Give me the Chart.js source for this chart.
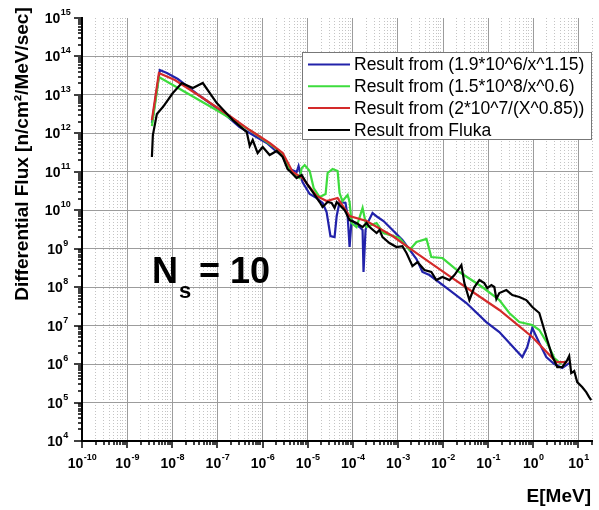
<!DOCTYPE html>
<html>
<head>
<meta charset="utf-8">
<title>Differential flux, Ns = 10</title>
<script src="https://cdn.jsdelivr.net/npm/chart.js@4.4.1/dist/chart.umd.min.js"></script>
<style>
  html, body { margin: 0; padding: 0; background: #fff; }
  canvas { display: block; }
</style>
</head>
<body>
<canvas id="fluxChart" width="599" height="510"></canvas>
<script>
// energy in MeV, flux in n/cm2/MeV/sec
const blueE = [3.54e-9, 5.3e-9, 7.6e-9, 1.33e-8, 4.1e-8, 1.13e-7, 3.1e-7, 6.7e-7, 1.24e-6, 1.86e-6,
    2.8e-6, 3.6e-6, 5.7e-6, 6.3e-6, 7.7e-6, 1.11e-5, 1.58e-5, 2.15e-5, 2.63e-5, 3.2e-5,
    3.95e-5, 4.4e-5, 5.1e-5, 6.9e-5, 7.7e-5, 8.5e-5, 9.4e-5, 1.41e-4, 1.65e-4, 1.73e-4,
    1.92e-4, 2.12e-4, 2.74e-4, 3.54e-4, 4.8e-4, 7.6e-4, 1.26e-3, 2.58e-3, 3.5e-3, 5.0e-3,
    1.39e-2, 3.3e-2, 9.1e-2, 0.177, 0.571, 0.736, 0.951, 1.36, 1.94, 2.92, 4.39, 6.25];
const blueFlux = [1.86e12, 4.45e13, 3.72e13, 2.59e13, 9.36e12, 4.05e12, 1.46e12, 8.53e11, 5.61e11, 3.69e11,
    2.58e11, 1.26e11, 9.9e10, 1.42e11, 5.43e10, 2.65e10, 2.08e10, 1.55e10, 9.0e9, 2.14e9,
    2.01e9, 7.08e9, 1.64e10, 1.55e10, 7.08e9, 1.11e9, 5.57e9, 3.66e9, 3.06e9, 2.48e8,
    3.06e9, 4.66e9, 8.47e9, 6.67e9, 5.25e9, 3.06e9, 1.68e9, 5.40e8, 2.48e8, 2.07e8,
    8.43e7, 3.87e7, 1.24e7, 6.82e6, 1.52e6, 2.77e6, 8.67e6, 3.52e6, 1.52e6, 1.0e6, 7.89e5, 1.06e6];

const greenE = [3.54e-9, 5.06e-9, 2.1e-8, 1.13e-7, 6.1e-7, 1.68e-6, 2.8e-6, 4.0e-6, 6.65e-6, 7.4e-6,
    8.6e-6, 1.11e-5, 1.36e-5, 1.84e-5, 2.5e-5, 2.77e-5, 3.57e-5, 4.61e-5, 5.1e-5, 5.9e-5,
    7.7e-5, 8.5e-5, 9.4e-5, 1.21e-4, 1.65e-4, 2.02e-4, 3.37e-4, 4.8e-4, 1.08e-3, 1.81e-3,
    2.58e-3, 4.3e-3, 5.5e-3, 9.7e-3, 2.3e-2, 7.4e-2, 0.177, 0.294, 0.49, 0.95,
    1.36, 2.04, 2.92, 4.16];
const greenFlux = [1.55e12, 2.92e13, 1.12e13, 3.59e12, 1.08e12, 4.69e11, 2.90e11, 1.11e11, 6.9e10, 1.26e11,
    1.50e11, 1.05e11, 3.79e10, 2.21e10, 2.65e10, 9.31e10, 1.18e11, 1.05e11, 2.81e10, 1.74e10,
    2.49e10, 1.64e10, 4.66e9, 3.66e9, 1.15e10, 3.66e9, 4.66e9, 2.56e9, 1.90e9, 9.25e8,
    1.49e9, 1.79e9, 6.08e8, 5.73e8, 2.48e8, 1.01e8, 4.63e7, 2.13e7, 1.24e7, 1.04e7,
    7.69e6, 3.52e6, 1.44e6, 1.0e6];

const redE = [3.54e-9, 5.06e-9, 1.14e-8, 4.08e-8, 1.88e-7, 5.21e-7, 1.44e-6, 2.8e-6, 4.66e-6, 7.74e-6,
    1.58e-5, 2.63e-5, 4.61e-5, 8.49e-5, 2.02e-4, 7.6e-4, 2.58e-3, 1.39e-2, 0.177, 0.95, 3.23, 5.65];
const redFlux = [2.22e12, 3.72e13, 2.44e13, 9.36e12, 2.83e12, 1.22e12, 5.61e11, 3.08e11, 9.9e10, 6.9e10,
    2.35e10, 1.74e10, 2.08e10, 7.08e9, 5.25e9, 2.14e9, 7.73e8, 1.95e8, 2.55e7, 5.06e6, 1.13e6, 1.13e6];

const flukaE = [3.54e-9, 3.72e-9, 4.56e-9, 6.2e-9, 1.03e-8, 1.63e-8, 2.86e-8, 4.75e-8, 9.7e-8, 2.19e-7,
    4.47e-7, 5.21e-7, 6.07e-7, 7.8e-7, 1.01e-6, 1.44e-6, 2.06e-6, 2.8e-6, 3.6e-6, 4.43e-6,
    5.7e-6, 7.4e-6, 8.6e-6, 1.0e-5, 1.29e-5, 1.84e-5, 2.15e-5, 2.77e-5, 3.4e-5, 3.95e-5,
    4.4e-5, 5.1e-5, 6.6e-5, 8.5e-5, 1.21e-4, 1.65e-4, 2.02e-4, 2.36e-4, 3.37e-4, 3.92e-4,
    4.56e-4, 6.5e-4, 9.3e-4, 1.26e-3, 1.55e-3, 2.1e-3, 2.72e-3, 3.87e-3, 5.5e-3, 7.1e-3,
    9.7e-3, 1.39e-2, 1.79e-2, 2.55e-2, 2.97e-2, 3.84e-2, 4.95e-2, 6.4e-2, 8.2e-2, 9.6e-2,
    0.118, 0.137, 0.152, 0.177, 0.253, 0.343, 0.49, 0.70, 0.95, 1.36,
    1.58, 2.04, 2.63, 3.40, 4.39, 5.65, 6.25, 6.93, 8.07, 9.40,
    12.1, 14.9, 17.3, 19.2];
const flukaFlux = [2.43e11, 9.06e11, 3.18e12, 4.84e12, 1.12e13, 2.04e13, 1.51e13, 2.04e13, 6.15e12, 2.22e12,
    1.08e12, 4.69e11, 6.71e11, 3.08e11, 4.42e11, 2.74e11, 3.48e11, 2.43e11, 1.18e11, 9.31e10,
    6.9e10, 8.26e10, 6.12e10, 4.54e10, 2.99e10, 1.64e10, 1.22e10, 1.64e10, 1.55e10, 1.15e10,
    1.64e10, 1.37e10, 1.01e10, 5.57e9, 4.66e9, 3.66e9, 4.66e9, 3.66e9, 2.56e9, 3.06e9,
    2.01e9, 1.41e9, 1.11e9, 1.17e9, 7.73e8, 3.55e8, 4.51e8, 2.79e8, 2.48e8, 1.53e8,
    1.84e8, 1.53e8, 2.07e8, 3.77e8, 1.28e8, 4.63e7, 1.01e8, 1.53e8, 1.28e8, 9.5e7,
    1.14e8, 1.01e8, 4.92e7, 7.05e7, 8.43e7, 6.25e7, 5.55e7, 4.63e7, 3.05e7, 2.13e7,
    1.17e7, 4.22e6, 1.62e6, 8.38e5, 8.38e5, 1.27e6, 1.62e6, 5.85e5, 6.59e5, 3.41e5,
    2.53e5, 1.87e5, 1.39e5, 1.16e5];

const seriesLabels = [
    'Result from (1.9*10^6/x^1.15)',
    'Result from (1.5*10^8/x^0.6)',
    'Result from (2*10^7/(X^0.85))',
    'Result from Fluka',
];
const seriesColors = ['#2222aa', '#3ddc3d', '#d42a2a', '#000000'];

// tick label exponents
const xDecades = [-10, -9, -8, -7, -6, -5, -4, -3, -2, -1, 0, 1];
const yDecades = [4, 5, 6, 7, 8, 9, 10, 11, 12, 13, 14, 15];

const FONT = '"Liberation Sans", Arial, sans-serif';

function toPoints(xs, ys) {
    return xs.map((x, i) => ({x: x, y: ys[i]}));
}

function isDecade(v) {
    const l = Math.log10(v);
    return Math.abs(l - Math.round(l)) < 1e-6;
}

// 1..9 x 10^n ticks, no 1.5 steps
function logTicks(scale) {
    const ticks = [];
    const lo = Math.floor(Math.log10(scale.min));
    const hi = Math.ceil(Math.log10(scale.max));
    for (let d = lo; d <= hi; d++) {
        for (let m = 1; m <= 9; m++) {
            const v = m * Math.pow(10, d);
            if (v >= scale.min * 0.999 && v <= scale.max * 1.001) {
                ticks.push({value: v});
            }
        }
    }
    scale.ticks = ticks;
}

function tickIsDecade(c) {
    return !!(c.tick && isDecade(c.tick.value));
}

function drawPower(ctx, exp, cx, baseY) {
    const base = 'bold 14px ' + FONT;
    const sup = 'bold 9px ' + FONT;
    ctx.font = base;
    const w1 = ctx.measureText('10').width;
    ctx.font = sup;
    const w2 = ctx.measureText(exp).width;
    const start = cx - (w1 + w2) / 2;
    ctx.font = base;
    ctx.fillText('10', start, baseY);
    ctx.font = sup;
    ctx.fillText(exp, start + w1 + 0.5, baseY - 8);
}

const decorPlugin = {
    id: 'decor',
    afterDraw(chart) {
        const {ctx, chartArea} = chart;
        const xs = chart.scales.x;
        const ys = chart.scales.y;
        ctx.save();

        // outward tick marks
        ctx.strokeStyle = '#000';
        ctx.lineWidth = 1.5;
        xs.ticks.forEach(t => {
            const px = Math.round(xs.getPixelForValue(t.value));
            const len = isDecade(t.value) ? 7 : 4;
            ctx.beginPath();
            ctx.moveTo(px, chartArea.bottom);
            ctx.lineTo(px, chartArea.bottom + len);
            ctx.stroke();
        });
        ys.ticks.forEach(t => {
            const py = Math.round(ys.getPixelForValue(t.value));
            const len = isDecade(t.value) ? 8 : 4;
            ctx.beginPath();
            ctx.moveTo(chartArea.left, py);
            ctx.lineTo(chartArea.left - len, py);
            ctx.stroke();
        });

        // tick labels
        ctx.fillStyle = '#000';
        ctx.textBaseline = 'alphabetic';
        ctx.textAlign = 'left';
        xDecades.forEach(d => {
            drawPower(ctx, String(d), xs.getPixelForValue(Math.pow(10, d)), chartArea.bottom + 27);
        });
        yDecades.forEach(d => {
            drawPower(ctx, String(d), 57.5, ys.getPixelForValue(Math.pow(10, d)) + 5);
        });

        // axis titles
        ctx.font = 'bold 19px ' + FONT;
        ctx.textAlign = 'right';
        ctx.fillText('E[MeV]', 591, 502);

        ctx.save();
        ctx.translate(28, 154);
        ctx.rotate(-Math.PI / 2);
        ctx.textAlign = 'center';
        ctx.fillText('Differential Flux [n/cm\u00b2/MeV/sec]', 0, 0);
        ctx.restore();

        // N_s annotation
        ctx.textAlign = 'left';
        ctx.font = 'bold 36px ' + FONT;
        ctx.fillText('N', 152, 283);
        const nw = ctx.measureText('N').width;
        ctx.font = 'bold 22px ' + FONT;
        ctx.fillText('s', 153 + nw, 298);
        ctx.font = 'bold 36px ' + FONT;
        ctx.fillText('= 10', 199, 283);

        // legend box
        const lx = 302, ly = 52, lw = 290, lh = 88;
        ctx.fillStyle = '#fff';
        ctx.fillRect(lx, ly, lw, lh);
        ctx.strokeStyle = '#777';
        ctx.lineWidth = 1;
        ctx.strokeRect(lx + 0.5, ly + 0.5, lw - 1, lh - 1);
        ctx.font = '17.5px ' + FONT;
        ctx.textBaseline = 'middle';
        chart.data.datasets.forEach((ds, i) => {
            const ry = 64.5 + i * 21.8;
            ctx.strokeStyle = ds.borderColor;
            ctx.lineWidth = 2;
            ctx.beginPath();
            ctx.moveTo(308, ry);
            ctx.lineTo(350, ry);
            ctx.stroke();
            ctx.fillStyle = '#000';
            ctx.fillText(ds.label, 354, ry + 1);
        });
        ctx.restore();
    }
};

const seriesData = [
    toPoints(blueE, blueFlux),
    toPoints(greenE, greenFlux),
    toPoints(redE, redFlux),
    toPoints(flukaE, flukaFlux),
];

const chart = new Chart(document.getElementById('fluxChart'), {
    type: 'line',
    data: {
        datasets: seriesData.map((d, i) => ({
            label: seriesLabels[i],
            data: d,
            borderColor: seriesColors[i],
            backgroundColor: seriesColors[i],
            borderWidth: 2.2,
            order: 4 - i, // black drawn last, on top
        })),
    },
    options: {
        responsive: false,
        animation: false,
        devicePixelRatio: 1,
        layout: {
            padding: {left: 82, right: 7, top: 18, bottom: 69}
        },
        plugins: {
            legend: {display: false},
            tooltip: {enabled: false},
        },
        elements: {
            point: {radius: 0},
            line: {tension: 0},
        },
        scales: {
            x: {
                type: 'logarithmic',
                min: 1e-10,
                max: 20,
                afterBuildTicks: logTicks,
                ticks: {display: false, autoSkip: false},
                grid: {
                    drawTicks: false,
                    color: (c) => tickIsDecade(c) ? '#9c9c9c' : '#c4c4c4',
                },
                border: {
                    display: true,
                    color: '#000',
                    width: 2,
                    dash: (c) => (c.tick && !isDecade(c.tick.value)) ? [1, 2] : [],
                },
            },
            y: {
                type: 'logarithmic',
                min: 1e4,
                max: 1e15,
                afterBuildTicks: logTicks,
                ticks: {display: false, autoSkip: false},
                grid: {
                    drawTicks: false,
                    color: (c) => (tickIsDecade(c) && c.tick.value < 9e14) ? '#9c9c9c' : 'rgba(0,0,0,0)',
                },
                border: {display: true, color: '#000', width: 2},
            },
        },
    },
    plugins: [decorPlugin],
});
</script>
</body>
</html>
